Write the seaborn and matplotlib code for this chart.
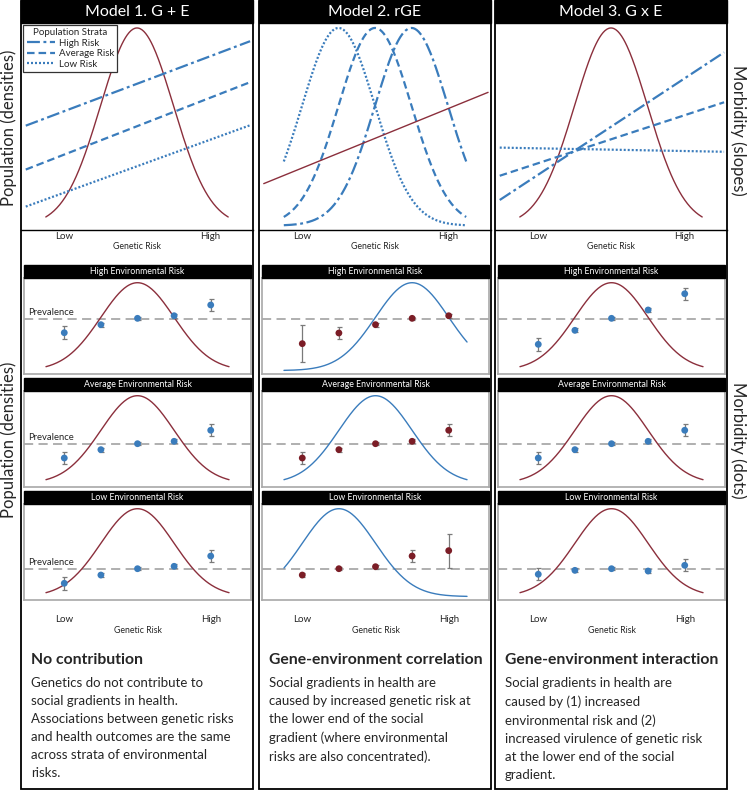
import numpy as np
import pandas as pd
import matplotlib
matplotlib.use("Agg")
import matplotlib.pyplot as plt
import seaborn as sns
from matplotlib.patches import Rectangle
from matplotlib.lines import Line2D

# ---------------- data ----------------
models = ["Model 1. G + E", "Model 2. rGE", "Model 3. G x E"]
headings = ["No contribution", "Gene-environment correlation", "Gene-environment interaction"]
descriptions = [
    "Genetics do not contribute to\nsocial gradients in health.\nAssociations between genetic risks\n"
    "and health outcomes are the same\nacross strata of environmental\nrisks.",
    "Social gradients in health are\ncaused by increased genetic risk at\nthe lower end of the social\n"
    "gradient (where environmental\nrisks are also concentrated).",
    "Social gradients in health are\ncaused by (1) increased\nenvironmental risk and (2)\n"
    "increased virulence of genetic risk\nat the lower end of the social\ngradient.",
]
strata = ["High Risk", "Average Risk", "Low Risk"]
env_strata = ["High Environmental Risk", "Average Environmental Risk", "Low Environmental Risk"]
tick_pos = [-2, 2]
tick_labels = ["Low", "High"]

# genetic risk distributions (SD units): drawn range, peak and tail heights
density_range = [-2.5, 2.5]
top_peak, top_floor = 97.6, 2.1
mid_peak, mid_floor = 95.1, 3.6
rge_centres = [1, 0, -1]          # high / average / low strata, model 2

# morbidity slopes (top row): value at the two ends of line_x
line_x = [-3.05, 3.1]
m1_slopes = [[50.4, 91.2], [29.2, 71.4], [11.3, 50.6]]
m2_slope = [22.4, 66.5]
m3_slopes = [[14.5, 85.8], [26.2, 61.7], [39.8, 37.8]]

# morbidity dots (middle rows) at five genetic risk levels
gene_levels = [-2, -1, 0, 1, 2]
prevalence = [57.3, 44.5, 32.0]
m1_dots = [[43.0, 51.4, 58.0, 60.7, 71.9], [30.2, 38.9, 45.1, 47.6, 59.1], [17.4, 26.0, 32.6, 35.1, 45.8]]
m1_err = [[6.5, 2, 1.5, 2, 6.4], [6.3, 2, 1.5, 2, 6.3], [6.5, 2, 1.5, 2, 6.5]]
m2_dots = [[31.6, 42.7, 51.4, 58.0, 60.7], [30.2, 38.9, 45.1, 47.6, 59.1], [26.0, 32.6, 34.7, 45.8, 51.4]]
m2_err = [[19.1, 6.3, 2, 1.5, 2], [6.3, 2, 1.5, 2, 6.3], [2, 1.5, 2, 6.1, 17.7]]
m3_dots = [[30.9, 45.5, 58.0, 66.7, 83.6], [30.2, 38.9, 45.1, 47.6, 59.1], [26.8, 30.9, 32.6, 30.2, 36.1]]
m3_err = [[6.5, 2, 1.5, 2, 6.3], [6.3, 2, 1.5, 2, 6.3], [6.3, 2, 1.5, 2, 6.4]]

# ---------------- style ----------------
sns.set_theme(style="white")
plt.rcParams["font.family"] = ["Lato", "DejaVu Sans"]

BLUE = "#3a7cbc"
RED_LINE = "#8b2f3c"
RED_DOT = "#7b1d26"
GREY = "#9a9a9a"
strata_dashes = {"High Risk": (5.8, 1.6, 1.3, 1.6), "Average Risk": (3.4, 1.8), "Low Risk": (0.9, 0.9)}

W, H = 747, 790
fig = plt.figure(figsize=(W / 100, H / 100), dpi=100)
col_left = [21, 259, 495]
col_w = 232


def rect(x0, y0, x1, y1):
    return [x0 / W, 1 - y1 / H, (x1 - x0) / W, (y1 - y0) / H]


def density(centre, peak, floor):
    xs = np.linspace(density_range[0], density_range[1], 200)
    return xs, floor + (peak - floor) * np.exp(-0.5 * (xs - centre) ** 2)


def fig_box(x0, y0, x1, y1, **kw):
    fig.add_artist(Rectangle((x0 / W, 1 - y1 / H), (x1 - x0) / W, (y1 - y0) / H,
                             transform=fig.transFigure, **kw))


def slope_frame(values):
    rows = []
    for s, (a, b) in zip(strata, values):
        rows += [{"g": line_x[0], "m": a, "stratum": s}, {"g": line_x[1], "m": b, "stratum": s}]
    return pd.DataFrame(rows)


all_dots = [m1_dots, m2_dots, m3_dots]
all_err = [m1_err, m2_err, m3_err]

for c, L in enumerate(col_left):
    # column frame and header
    fig_box(L, 0.5, L + col_w, 789, fill=False, ec="black", lw=1.3)
    fig_box(L, 0, L + col_w, 23, color="black")
    fig.text((L + col_w / 2) / W, 1 - 12 / H, models[c], color="white",
             ha="center", va="center", fontsize=11.5)

    # ---- top row ----
    ax = fig.add_axes(rect(L, 23, L + col_w, 230))
    ax.set_facecolor("none")
    ax.set_xlim(-3.18, 3.18)
    ax.set_ylim(0, 100)
    for sp in ["top", "left", "right"]:
        ax.spines[sp].set_visible(False)
    ax.spines["bottom"].set_color("black")
    ax.spines["bottom"].set_linewidth(1.0)
    ax.set_xticks(tick_pos, tick_labels)
    ax.set_yticks([])
    ax.tick_params(axis="x", length=0, pad=1.5, labelsize=7)
    ax.set_xlabel("Genetic Risk", fontsize=6.3, labelpad=1)

    if c == 1:
        for s, cen in zip(strata, rge_centres):
            xs, ys = density(cen, top_peak, top_floor)
            sns.lineplot(x=xs, y=ys, ax=ax, color=BLUE, lw=1.6,
                         linestyle=(0, strata_dashes[s]))
        sns.lineplot(x=line_x, y=m2_slope, ax=ax, color=RED_LINE, lw=1.0)
    else:
        xs, ys = density(0, top_peak, top_floor)
        sns.lineplot(x=xs, y=ys, ax=ax, color=RED_LINE, lw=1.0)
        df = slope_frame(m1_slopes if c == 0 else m3_slopes)
        sns.lineplot(data=df, x="g", y="m", style="stratum", dashes=strata_dashes,
                     color=BLUE, lw=1.6, ax=ax, legend=False)
    ax.set_ylabel("")

    if c == 0:
        handles = [Line2D([], [], color=BLUE, lw=1.6, linestyle=(0, strata_dashes[s])) for s in strata]
        leg = ax.legend(handles, strata, title="Population Strata", loc="upper left",
                        bbox_to_anchor=(0.005, 0.995), fontsize=7, title_fontsize=7,
                        frameon=True, fancybox=False, edgecolor="#333333", framealpha=1,
                        borderpad=0.35, handlelength=2.9, labelspacing=0.15, handletextpad=0.4,
                        borderaxespad=0.1)
        leg.get_frame().set_linewidth(0.9)

    # ---- middle rows ----
    for r in range(3):
        top = 265 + r * 113
        fig_box(L + 3, top, L + col_w - 2, top + 13, color="black")
        fig.text((L + 3 + (col_w - 5) / 2) / W, 1 - (top + 6.8) / H, env_strata[r],
                 color="white", ha="center", va="center", fontsize=6.3)
        ax = fig.add_axes(rect(L + 3, top + 13, L + col_w - 2, top + 109))
        ax.set_xlim(-3.1, 3.1)
        ax.set_ylim(0, 100)
        for sp in ax.spines.values():
            sp.set_color("#a8a8a8")
            sp.set_linewidth(1.2)
        ax.set_yticks([])
        ax.axhline(prevalence[r], color=GREY, lw=1.1, linestyle=(0, (6, 3.5)), zorder=1)
        if c == 0:
            ax.text(-3.0, prevalence[r] + 2.5, "Prevalence", fontsize=6.8, va="bottom", ha="left")
        if c == 1:
            xs, ys = density(rge_centres[r], mid_peak, mid_floor)
            sns.lineplot(x=xs, y=ys, ax=ax, color=BLUE, lw=1.0)
            dot_col = RED_DOT
        else:
            xs, ys = density(0, mid_peak, mid_floor)
            sns.lineplot(x=xs, y=ys, ax=ax, color=RED_LINE, lw=1.0)
            dot_col = BLUE
        ax.errorbar(gene_levels, all_dots[c][r], yerr=all_err[c][r], fmt="none",
                    ecolor="#7a7a7a", elinewidth=0.9, capsize=1.8, capthick=0.9, zorder=2)
        sns.scatterplot(x=gene_levels, y=all_dots[c][r], ax=ax, color=dot_col, s=24,
                        edgecolor="none", zorder=3)
        if r == 2:
            ax.set_xticks(tick_pos, tick_labels)
            ax.tick_params(axis="x", length=0, pad=11, labelsize=7)
            ax.set_xlabel("Genetic Risk", fontsize=6.3, labelpad=1)
        else:
            ax.set_xticks([])

    # ---- description ----
    fig.text((L + 10) / W, 1 - 660 / H, headings[c], fontsize=11.3, fontweight="bold",
             ha="left", va="center")
    fig.text((L + 10) / W, 1 - 677 / H, descriptions[c], fontsize=9.5, ha="left", va="top",
             linespacing=1.6)

# side labels
fig.text(9 / W, 1 - 128 / H, "Population (densities)", rotation=90, ha="center", va="center", fontsize=12)
fig.text(9 / W, 1 - 440 / H, "Population (densities)", rotation=90, ha="center", va="center", fontsize=12)
fig.text(738 / W, 1 - 130 / H, "Morbidity (slopes)", rotation=270, ha="center", va="center", fontsize=12)
fig.text(738 / W, 1 - 440 / H, "Morbidity (dots)", rotation=270, ha="center", va="center", fontsize=12)

fig.savefig("out.png", dpi=100)
